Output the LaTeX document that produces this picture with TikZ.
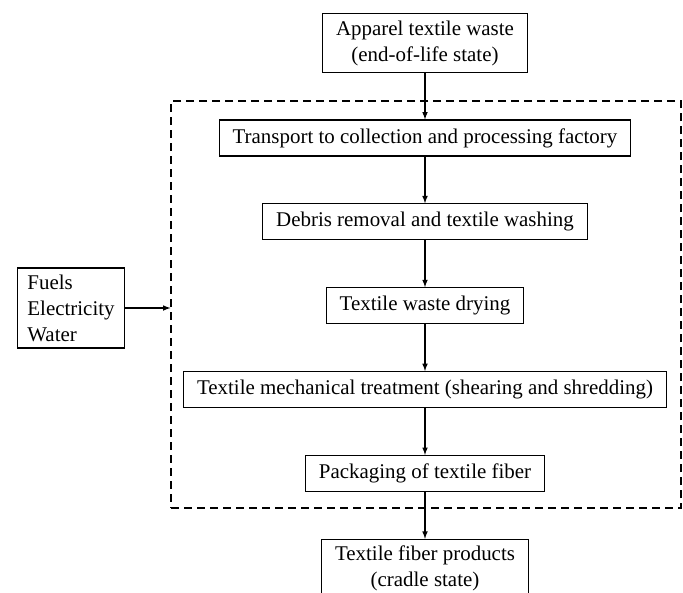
\documentclass[tikz,border=0pt]{standalone}
\usepackage{fontspec}
\setmainfont{Liberation Serif}
\usepackage{tikz}
\usetikzlibrary{arrows,positioning}

\begin{document}
\begin{tikzpicture}[x=0.75pt, y=0.75pt, node distance=35pt,
  every node/.style = {font=\fontsize{15.7}{19.5}\selectfont},
  stepbox/.style = {draw, line width=0.9pt, align=center,
    inner xsep=10pt, inner ysep=5pt, minimum height=27pt},
  flow/.style = {-latex, line width=0.9pt}]
  \useasboundingbox (0,0) rectangle (683,-593);

  % system boundary
  \node[draw, dashed, dash pattern=on 6pt off 3.75pt, line width=0.9pt,
    minimum width=382.5pt, minimum height=305.25pt] (frame) at (426,-304.5) {};

  \node[stepbox] (waste) at (425,-43) {Apparel textile waste\\(end-of-life state)};
  \node[stepbox, below=of waste] (transport) {Transport to collection and processing factory};
  \node[stepbox, below=of transport] (washing) {Debris removal and textile washing};
  \node[stepbox, below=of washing] (drying) {Textile waste drying};
  \node[stepbox, below=of drying] (shredding) {Textile mechanical treatment (shearing and shredding)};
  \node[stepbox, below=of shredding] (packing) {Packaging of textile fiber};
  \node[stepbox, below=of packing] (fiber) {Textile fiber products\\(cradle state)};

  \node[stepbox, align=left, inner xsep=7.5pt] (inputs) at (71,-308) {Fuels\\Electricity\\Water};

  \draw[flow] (waste) -- (transport);
  \draw[flow] (transport) -- (washing);
  \draw[flow] (washing) -- (drying);
  \draw[flow] (drying) -- (shredding);
  \draw[flow] (shredding) -- (packing);
  \draw[flow] (packing) -- (fiber);
  \draw[flow] (inputs) -- (inputs -| frame.west);
\end{tikzpicture}
\end{document}
